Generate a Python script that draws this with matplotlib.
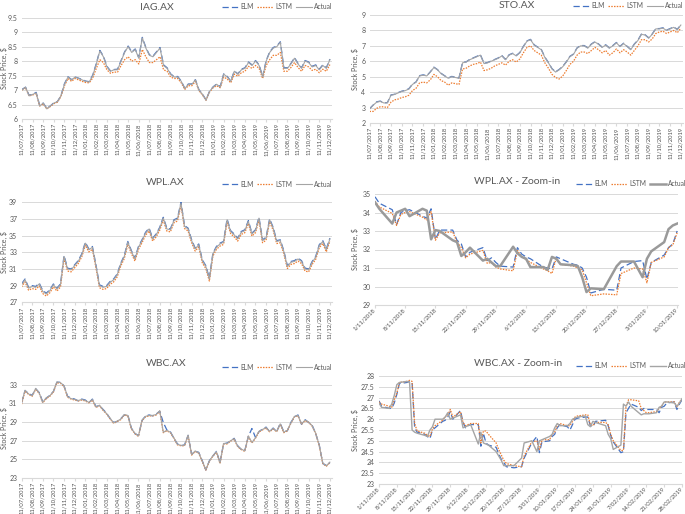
import matplotlib
matplotlib.use("Agg")
import matplotlib.pyplot as plt
import numpy as np
import pandas as pd

plt.rcParams['font.family'] = ['Lato', 'DejaVu Sans']

W, H = 685, 514

# monthly tick labels for the long charts (3 samples per month)
month_labels = [f"11/{(6 + k) % 12 + 1:02d}/{2017 + (6 + k) // 12}" for k in range(30)]

iag_actual = [7.00, 7.10, 6.80, 6.85, 6.90, 6.45, 6.55, 6.35, 6.45, 6.55, 6.60, 6.80,
              7.20, 7.45, 7.35, 7.45, 7.40, 7.35, 7.30, 7.28, 7.50, 7.90, 8.35, 8.15,
              7.80, 7.65, 7.70, 7.70, 8.00, 8.30, 8.50, 8.30, 8.40, 8.10, 8.80, 8.45,
              8.20, 8.15, 8.30, 8.45, 7.85, 7.75, 7.55, 7.45, 7.45, 7.30, 7.05, 7.20,
              7.20, 7.35, 7.00, 6.85, 6.65, 6.95, 7.10, 7.20, 7.10, 7.55, 7.45, 7.30,
              7.65, 7.55, 7.70, 7.75, 7.95, 7.85, 8.00, 7.85, 7.45, 8.00, 8.30, 8.45,
              8.50, 8.65, 7.75, 7.75, 7.90, 8.10, 7.90, 7.75, 8.00, 7.95, 7.80, 7.85,
              7.70, 7.85, 7.75, 8.05]
iag_elm = [7.02, 7.10, 6.82, 6.85, 6.92, 6.47, 6.55, 6.37, 6.45, 6.56, 6.60, 6.80,
           7.22, 7.46, 7.36, 7.45, 7.41, 7.36, 7.31, 7.29, 7.52, 7.92, 8.37, 8.17,
           7.82, 7.66, 7.71, 7.72, 8.02, 8.32, 8.52, 8.32, 8.42, 8.12, 8.82, 8.47,
           8.22, 8.17, 8.32, 8.47, 7.87, 7.77, 7.56, 7.46, 7.47, 7.31, 7.06, 7.21,
           7.21, 7.36, 7.01, 6.86, 6.66, 6.96, 7.11, 7.21, 7.12, 7.56, 7.47, 7.31,
           7.66, 7.56, 7.72, 7.77, 7.97, 7.87, 8.02, 7.87, 7.47, 8.02, 8.32, 8.47,
           8.52, 8.67, 7.77, 7.77, 7.92, 8.12, 7.92, 7.77, 8.02, 7.97, 7.82, 7.87,
           7.72, 7.87, 7.77, 8.07]
iag_lstm = [7.00, 7.08, 6.80, 6.83, 6.88, 6.45, 6.52, 6.35, 6.43, 6.53, 6.58, 6.78,
            7.15, 7.40, 7.30, 7.40, 7.35, 7.30, 7.26, 7.25, 7.42, 7.75, 8.05, 7.95,
            7.70, 7.58, 7.62, 7.62, 7.85, 8.05, 8.15, 8.00, 8.05, 7.90, 8.40, 8.15,
            7.95, 7.95, 8.05, 8.15, 7.70, 7.65, 7.45, 7.40, 7.40, 7.25, 7.02, 7.15,
            7.15, 7.30, 6.98, 6.83, 6.65, 6.93, 7.08, 7.15, 7.08, 7.45, 7.38, 7.25,
            7.55, 7.48, 7.60, 7.65, 7.82, 7.75, 7.85, 7.75, 7.40, 7.85, 8.05, 8.20,
            8.20, 8.30, 7.65, 7.65, 7.78, 7.95, 7.78, 7.65, 7.85, 7.80, 7.68, 7.72,
            7.60, 7.72, 7.65, 7.88]

sto_actual = [2.90, 3.15, 3.35, 3.40, 3.30, 3.30, 3.80, 3.85, 3.95, 4.05, 4.10, 4.20,
              4.50, 4.65, 5.05, 5.10, 5.05, 5.30, 5.60, 5.45, 5.20, 5.05, 4.90, 5.00,
              4.95, 4.90, 5.90, 5.95, 6.10, 6.20, 6.30, 6.40, 5.85, 5.90, 6.00, 6.10,
              6.20, 6.35, 6.10, 6.40, 6.50, 6.35, 6.55, 6.95, 7.30, 7.40, 7.05, 6.90,
              6.75, 6.25, 5.90, 5.50, 5.30, 5.45, 5.65, 5.95, 6.30, 6.45, 6.85, 7.00,
              7.00, 6.85, 7.10, 7.25, 7.10, 6.90, 7.05, 6.85, 7.00, 7.20, 6.95, 7.15,
              6.95, 6.75, 7.10, 7.35, 7.75, 7.70, 7.50, 7.75, 8.10, 8.10, 8.15, 8.00,
              8.10, 8.20, 8.05, 8.35]
sto_elm = [2.92, 3.16, 3.37, 3.42, 3.31, 3.32, 3.82, 3.86, 3.97, 4.06, 4.12, 4.22,
           4.52, 4.66, 5.07, 5.12, 5.06, 5.32, 5.62, 5.46, 5.22, 5.06, 4.92, 5.02,
           4.96, 4.92, 5.92, 5.96, 6.12, 6.22, 6.32, 6.42, 5.87, 5.92, 6.02, 6.12,
           6.22, 6.37, 6.12, 6.42, 6.52, 6.37, 6.57, 6.97, 7.32, 7.42, 7.07, 6.92,
           6.77, 6.27, 5.92, 5.52, 5.32, 5.47, 5.67, 5.97, 6.32, 6.47, 6.87, 7.02,
           7.02, 6.87, 7.12, 7.27, 7.12, 6.92, 7.07, 6.87, 7.02, 7.22, 6.97, 7.17,
           6.97, 6.77, 7.12, 7.37, 7.77, 7.72, 7.52, 7.77, 8.12, 8.12, 8.17, 8.02,
           8.12, 8.22, 8.07, 8.37]
sto_lstm = [2.75, 2.75, 2.95, 3.05, 3.05, 3.00, 3.35, 3.50, 3.55, 3.65, 3.70, 3.80,
            4.10, 4.25, 4.60, 4.65, 4.60, 4.80, 5.15, 5.00, 4.75, 4.65, 4.45, 4.60,
            4.55, 4.50, 5.50, 5.55, 5.70, 5.80, 5.85, 5.95, 5.40, 5.45, 5.55, 5.70,
            5.80, 5.90, 5.75, 6.00, 6.10, 5.95, 6.15, 6.55, 6.90, 7.00, 6.70, 6.55,
            6.40, 5.90, 5.55, 5.15, 4.95, 4.85, 5.05, 5.40, 5.80, 6.00, 6.40, 6.60,
            6.60, 6.50, 6.70, 6.90, 6.75, 6.55, 6.70, 6.40, 6.55, 6.80, 6.55, 6.75,
            6.60, 6.40, 6.70, 7.00, 7.40, 7.40, 7.25, 7.45, 7.80, 7.90, 7.95, 7.80,
            7.90, 8.00, 7.85, 8.15]

wpl_actual = [29.10, 29.70, 28.70, 28.90, 28.80, 29.20, 28.30, 28.00, 28.40, 29.10, 28.60, 29.10,
              32.50, 31.00, 30.90, 31.40, 31.90, 32.70, 34.10, 33.30, 33.60, 31.40, 29.00, 28.80,
              28.90, 29.40, 29.70, 30.30, 31.60, 32.50, 34.20, 33.10, 32.20, 33.60, 34.40, 35.30,
              35.80, 34.60, 35.10, 35.90, 37.10, 35.80, 35.70, 36.80, 37.00, 38.90, 36.10, 35.80,
              34.40, 33.40, 33.90, 32.00, 31.30, 29.80, 32.80, 33.60, 34.00, 34.20, 36.90, 35.50,
              35.10, 34.60, 35.40, 35.60, 36.70, 35.20, 35.60, 37.10, 34.40, 34.70, 36.90, 35.90,
              34.30, 34.40, 33.10, 31.30, 31.80, 31.90, 32.20, 31.90, 31.00, 30.90, 31.80, 32.40,
              33.80, 34.30, 33.30, 34.60]
wpl_elm = [29.20, 29.80, 28.80, 29.00, 28.90, 29.30, 28.40, 28.10, 28.50, 29.20, 28.70, 29.20,
           32.60, 31.10, 31.00, 31.50, 32.00, 32.80, 34.20, 33.40, 33.70, 31.50, 29.10, 28.90,
           29.00, 29.50, 29.80, 30.40, 31.70, 32.60, 34.30, 33.20, 32.30, 33.70, 34.50, 35.40,
           35.90, 34.70, 35.20, 36.00, 37.20, 35.90, 35.80, 36.90, 37.10, 39.00, 36.20, 35.90,
           34.50, 33.50, 34.00, 32.10, 31.40, 29.90, 32.90, 33.70, 34.10, 34.30, 37.00, 35.60,
           35.20, 34.70, 35.50, 35.70, 36.80, 35.30, 35.70, 37.20, 34.50, 34.80, 37.00, 36.00,
           34.40, 34.50, 33.20, 31.40, 31.90, 32.00, 32.30, 32.00, 31.10, 31.00, 31.90, 32.50,
           33.90, 34.40, 33.40, 34.70]
wpl_lstm = [28.85, 29.45, 28.45, 28.65, 28.55, 28.95, 28.05, 27.75, 28.15, 28.85, 28.35, 28.85,
            32.25, 30.75, 30.65, 31.15, 31.65, 32.45, 33.85, 33.05, 33.35, 31.15, 28.75, 28.55,
            28.65, 29.15, 29.45, 30.05, 31.35, 32.25, 33.95, 32.85, 31.95, 33.35, 34.15, 35.05,
            35.55, 34.35, 34.85, 35.65, 36.85, 35.55, 35.45, 36.55, 36.75, 38.65, 35.85, 35.55,
            34.15, 33.15, 33.65, 31.75, 31.05, 29.55, 32.55, 33.35, 33.75, 33.95, 36.65, 35.25,
            34.85, 34.35, 35.15, 35.35, 36.45, 34.95, 35.35, 36.85, 34.15, 34.45, 36.65, 35.65,
            34.05, 34.15, 32.85, 31.05, 31.55, 31.65, 31.95, 31.65, 30.75, 30.65, 31.55, 32.15,
            33.55, 34.05, 33.05, 34.35]

wbc_actual = [31.00, 32.40, 32.00, 31.80, 32.60, 32.10, 31.10, 31.60, 31.80, 32.30, 33.30, 33.20,
              32.90, 31.70, 31.50, 31.40, 31.30, 31.40, 31.30, 31.10, 31.40, 30.60, 30.80, 30.30,
              29.90, 29.40, 28.90, 29.10, 29.30, 29.80, 29.70, 28.30, 27.80, 27.50, 29.20, 29.60,
              29.70, 29.70, 29.80, 30.20, 27.90, 28.10, 27.90, 27.30, 26.60, 26.50, 26.50, 27.60,
              25.50, 25.90, 25.70, 24.80, 23.90, 24.80, 25.40, 25.80, 24.60, 26.70, 26.70, 27.00,
              27.20, 26.40, 26.10, 25.90, 27.50, 26.80, 27.30, 28.00, 28.20, 28.40, 28.00, 28.30,
              28.00, 28.80, 27.90, 28.10, 28.90, 29.60, 29.70, 28.80, 29.20, 29.00, 28.60, 27.80,
              26.50, 24.60, 24.30, 24.70]
wbc_elm = [31.05, 32.35, 32.05, 31.85, 32.55, 32.15, 31.15, 31.55, 31.85, 32.25, 33.25, 33.25,
           32.85, 31.75, 31.55, 31.45, 31.25, 31.45, 31.35, 31.05, 31.45, 30.65, 30.75, 30.35,
           29.95, 29.35, 28.95, 29.05, 29.35, 29.75, 29.75, 28.35, 27.75, 27.55, 29.15, 29.65,
           29.75, 29.65, 29.85, 30.15, 28.95, 28.15, 27.95, 27.25, 26.65, 26.45, 26.55, 27.55,
           25.55, 25.85, 25.75, 24.85, 23.85, 24.85, 25.35, 25.85, 24.65, 26.65, 26.75, 26.95,
           27.25, 26.45, 26.05, 25.95, 27.45, 28.30, 27.35, 27.95, 28.25, 28.45, 27.95, 28.35,
           27.95, 28.85, 27.95, 28.05, 28.95, 29.55, 29.75, 28.75, 29.25, 28.95, 28.65, 27.75,
           26.55, 24.55, 24.35, 24.65]
wbc_lstm = [30.90, 32.30, 31.95, 31.75, 32.50, 32.05, 31.05, 31.50, 31.75, 32.20, 33.20, 33.15,
            32.80, 31.65, 31.45, 31.35, 31.25, 31.35, 31.25, 31.05, 31.35, 30.55, 30.75, 30.25,
            29.85, 29.35, 28.85, 29.05, 29.25, 29.75, 29.65, 28.25, 27.75, 27.45, 29.15, 29.55,
            29.65, 29.65, 29.75, 30.15, 27.85, 28.05, 27.85, 27.25, 26.55, 26.45, 26.45, 27.55,
            25.45, 25.85, 25.65, 24.75, 23.85, 24.75, 25.35, 25.75, 24.55, 26.65, 26.65, 26.95,
            27.15, 26.35, 26.05, 25.85, 27.45, 26.75, 27.25, 27.95, 28.15, 28.35, 27.95, 28.25,
            27.95, 28.75, 27.85, 28.05, 28.85, 29.55, 29.65, 28.75, 29.15, 28.95, 28.55, 27.75,
            26.45, 24.55, 24.25, 24.65]

# zoom-in panels: ASX trading days from 1 Nov 2018
holidays = ['2018-12-25', '2018-12-26', '2019-01-01', '2019-01-28']
zoom_start = pd.Timestamp('2018-11-01')
wplz_days = pd.bdate_range('2018-11-01', '2019-01-10').drop(pd.to_datetime(holidays[:3]))
wbcz_days = pd.bdate_range('2018-11-01', '2019-02-28').drop(pd.to_datetime(holidays))

wplz_actual = [34.55, 34.2, 33.4, 34.0, 34.1, 34.2, 33.8, 34.2, 34.1, 32.55, 33.05, 33.0,
               32.5, 32.4, 31.65, 31.85, 32.1, 31.4, 31.5, 31.3, 31.1, 31.1,
               32.15, 31.8, 31.6, 31.5, 31.05, 31.05, 30.9, 31.6, 31.5, 31.2, 31.15, 31.1,
               30.5, 29.7, 29.9, 29.85, 31.1, 31.35, 31.35,
               30.5, 31.5, 31.9, 32.4, 33.1, 33.3, 33.4]
wplz_elm = [34.85, 34.5, 34.15, 33.35, 34.0, 34.1, 34.15, 33.8, 33.7, 34.2, 32.55, 33.05,
            33.05, 32.5, 32.3, 31.6, 31.85, 32.1, 31.4, 31.55, 31.3, 31.1,
            31.05, 32.1, 31.75, 31.6, 31.5, 31.05, 31.0, 30.95, 31.6, 31.5, 31.2, 31.15,
            31.0, 30.5, 29.65, 29.85, 29.8, 31.0, 31.35,
            31.4, 30.4, 31.3, 31.7, 32.1, 32.3, 33.0]
wplz_lstm = [34.6, 34.3, 33.95, 33.3, 33.9, 34.0, 34.05, 33.75, 33.6, 34.05, 32.5, 32.9,
             32.95, 32.4, 32.1, 31.55, 31.75, 31.95, 31.25, 31.3, 31.05, 30.95,
             30.85, 31.95, 31.6, 31.45, 31.3, 30.95, 30.85, 30.7, 31.55, 31.2, 31.1, 31.0,
             30.9, 30.2, 29.5, 29.6, 29.55, 30.7, 31.0,
             30.95, 30.2, 31.3, 31.6, 32.1, 32.25, 32.9]

wbcz_actual = [26.75, 26.55, 26.5, 26.7, 27.1, 27.6, 27.7, 27.75, 27.7, 25.5, 25.4, 25.35,
               25.25, 25.2, 25.5, 25.65, 26.0, 26.0, 26.1, 26.3, 26.0, 26.05,
               26.2, 25.6, 25.65, 25.7, 25.75, 24.85, 25.4, 24.9, 24.85, 24.8, 24.5, 24.3,
               24.1, 23.85, 23.85, 23.85, 24.2, 24.9, 25.0,
               24.5, 25.0, 25.05, 25.2, 25.3, 25.6, 25.8, 25.7, 25.7, 25.8, 26.0, 26.05,
               26.1, 26.15, 25.75, 25.65, 25.9, 25.85, 25.7, 25.3, 25.1,
               24.6, 24.8, 26.7, 26.6, 26.8, 26.6, 26.3, 26.2, 26.25, 26.25, 26.25, 26.3,
               26.55, 26.6, 26.8, 26.8, 26.75, 26.6, 26.75, 26.95]
wbcz_elm = [26.85, 26.6, 26.5, 26.5, 26.75, 27.15, 27.65, 27.7, 27.75, 27.7, 25.6, 25.4,
            25.3, 25.2, 25.1, 25.5, 25.6, 25.9, 25.95, 26.1, 26.35, 26.0,
            26.4, 25.85, 25.6, 25.7, 25.75, 25.75, 24.75, 25.35, 24.9, 24.8, 24.7, 24.4,
            24.15, 24.0, 23.8, 23.75, 23.8, 24.2, 24.9,
            25.2, 24.45, 24.95, 25.0, 25.2, 25.3, 25.6, 25.75, 25.65, 25.5, 25.75, 26.0,
            26.05, 26.1, 26.1, 25.7, 25.65, 25.9, 25.95, 25.7, 25.25,
            24.95, 24.45, 24.5, 26.3, 26.5, 26.7, 26.55, 26.4, 26.5, 26.45, 26.45, 26.45,
            26.3, 26.55, 26.6, 26.75, 26.8, 26.45, 26.7, 26.9]
wbcz_lstm = [26.8, 26.7, 26.6, 26.55, 26.9, 27.2, 27.7, 27.75, 27.8, 27.75, 25.8, 25.45,
             25.35, 25.25, 25.2, 25.55, 25.7, 25.95, 26.1, 26.2, 26.45, 26.1,
             26.35, 25.85, 25.7, 25.75, 25.8, 25.8, 24.9, 25.45, 25.45, 25.3, 24.9, 24.6,
             24.35, 24.1, 23.95, 23.85, 23.8, 24.3, 24.95,
             25.0, 24.6, 25.05, 25.05, 25.3, 25.4, 25.7, 25.8, 25.7, 25.7, 25.9, 26.1,
             26.15, 26.2, 26.2, 25.75, 25.7, 25.85, 25.85, 25.75, 25.3,
             25.0, 24.55, 24.55, 26.6, 26.9, 26.9, 26.85, 26.5, 26.4, 26.3, 26.3, 26.35,
             26.5, 26.6, 26.8, 26.8, 26.8, 26.55, 26.8, 26.9]

BLUE, ORANGE, GREY = '#4472C4', '#ED7D31', '#A5A5A5'
TXT, GRID = '#595959', '#D9D9D9'

fig = plt.figure(figsize=(6.85, 5.14), dpi=100)


def panel(box, title, title_xy, legend_xy, ylab_x, yticks, ylim, series, xvals,
          xticks, xlabels, rot, act_lw=0.8, act_col=GREY):
    x0, y0, x1, y1 = box
    ax = fig.add_axes([x0 / W, 1 - y1 / H, (x1 - x0) / W, (y1 - y0) / H])
    elm, lstm, act = series
    l1, = ax.plot(xvals, elm, color=BLUE, lw=0.9, dashes=(5, 2.5), label='ELM')
    l2, = ax.plot(xvals, lstm, color=ORANGE, lw=0.9, dashes=(1.2, 1), label='LSTM')
    l3, = ax.plot(xvals, act, color=act_col, lw=act_lw, label='Actual')
    ax.set_ylim(*ylim)
    ax.set_yticks(yticks)
    ax.set_yticklabels([f"{v:g}" for v in yticks])
    ax.set_xticks(xticks)
    if rot == 90:
        ax.set_xticklabels(xlabels, rotation=90, ha='center', va='top')
    else:
        ax.set_xticklabels(xlabels, rotation=45, ha='right', va='center',
                           rotation_mode='anchor')
    ax.grid(axis='y', color=GRID, lw=0.7)
    ax.set_axisbelow(True)
    for s in ['top', 'right', 'left']:
        ax.spines[s].set_visible(False)
    ax.spines['bottom'].set_color(GRID)
    ax.spines['bottom'].set_linewidth(0.8)
    ax.tick_params(axis='y', length=0, labelsize=5, labelcolor=TXT, pad=3)
    ax.tick_params(axis='x', length=2, color=GRID, labelsize=4.2, labelcolor='#505050',
                   pad=1)
    fig.text(title_xy[0] / W, 1 - title_xy[1] / H, title, ha='center', va='center',
             fontsize=7.5, color=TXT)
    fig.text(ylab_x / W, 1 - (y0 + y1) / 2 / H, 'Stock Price, $', rotation=90,
             ha='center', va='center', fontsize=5, color=TXT)
    fig.legend(handles=[l1, l2, l3], loc='center right',
               bbox_to_anchor=(legend_xy[0] / W, 1 - legend_xy[1] / H),
               ncol=3, frameon=False, fontsize=4.8, labelcolor=TXT, handlelength=2.4,
               handletextpad=0.3, columnspacing=0.5, borderpad=0, borderaxespad=0)
    return ax


t = np.arange(len(iag_actual)) / 3
mt = np.arange(len(month_labels))

ax = panel((22, 17.7, 332, 119), 'IAG.AX', (157, 8), (332, 6.5), 4,
           [6, 6.5, 7, 7.5, 8, 8.5, 9, 9.5], (6, 9.5),
           (iag_elm, iag_lstm, iag_actual), t, mt, month_labels, 90)
ax.set_xlim(0, 29.2)

ax = panel((369.5, 15, 683, 123), 'STO.AX', (517, 5), (683, 6), 355,
           list(range(2, 10)), (2, 9),
           (sto_elm, sto_lstm, sto_actual), t, mt, month_labels, 90)
ax.set_xlim(0, 29.2)

ax = panel((21.5, 202.3, 332, 302.3), 'WPL.AX', (165, 182), (332, 184), 4,
           list(range(27, 40, 2)), (27, 39),
           (wpl_elm, wpl_lstm, wpl_actual), t, mt, month_labels, 90)
ax.set_xlim(0, 29.2)

ax = panel((21.5, 379, 332, 478), 'WBC.AX', (166, 364), (332, 367), 4,
           list(range(23, 34, 2)), (23, 33.6),
           (wbc_elm, wbc_lstm, wbc_actual), t, mt, month_labels, 90)
ax.set_xlim(0, 29.2)

# zoom-in panels on a day axis
wplz_x = np.asarray((wplz_days - zoom_start).days, dtype=float)
wplz_ticks = pd.date_range('2018-11-01', '2019-01-10', freq='7D')
ax = panel((375, 194, 678, 305), 'WPL.AX - Zoom-in', (517, 181), (686, 183.5), 355,
           list(range(29, 36)), (29, 35),
           (wplz_elm, wplz_lstm, wplz_actual), wplz_x,
           (wplz_ticks - zoom_start).days, [f"{d.day}/{d.month:02d}/{d.year}" for d in wplz_ticks],
           45, act_lw=1.8, act_col='#9A9A9A')
ax.set_xlim(0, 70.2)

wbcz_x = np.asarray((wbcz_days - zoom_start).days, dtype=float)
wbcz_ticks = pd.date_range('2018-11-01', '2019-02-28', freq='7D')
ax = panel((379, 376, 682, 484), 'WBC.AX - Zoom-in', (518, 363), (686, 366), 355,
           list(np.arange(23, 28.01, 0.5)), (23, 28),
           (wbcz_elm, wbcz_lstm, wbcz_actual), wbcz_x,
           (wbcz_ticks - zoom_start).days, [f"{d.day}/{d.month:02d}/{d.year}" for d in wbcz_ticks],
           45, act_lw=1.0)
ax.set_xlim(0, 119)

fig.savefig('out.png', dpi=100)
